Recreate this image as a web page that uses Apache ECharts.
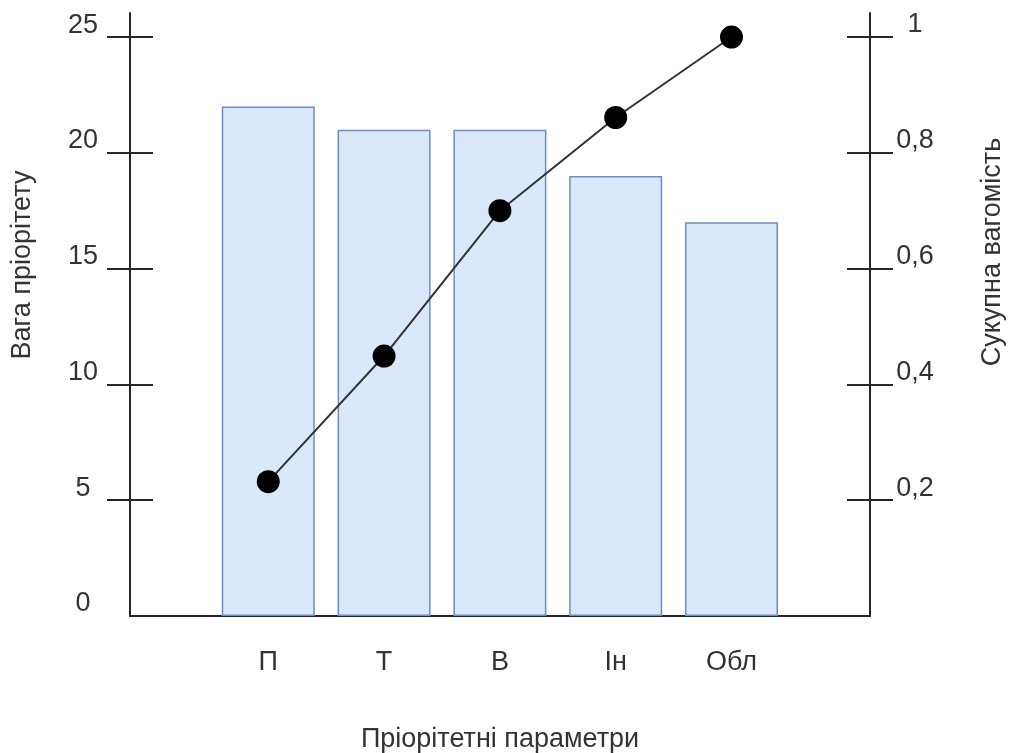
<!DOCTYPE html>
<html>
<head>
<meta charset="utf-8">
<script src="https://cdn.jsdelivr.net/npm/echarts@6/dist/echarts.min.js"></script>
<style>
html,body{margin:0;padding:0;background:#fff;}
#c{width:1013px;height:753px;}
</style>
</head>
<body>
<div id="c"></div>
<script>
var categories = ['П', 'Т', 'В', 'Ін', 'Обл'];
var weights = [22, 21, 21, 19, 17];
var cumulative = [0.232, 0.449, 0.700, 0.861, 1.0];
var leftLabels = [0, 5, 10, 15, 20, 25];
var leftTicks = [5, 10, 15, 20, 25];
var rightTicks = [0.2, 0.4, 0.6, 0.8, 1];
var xTitle = 'Пріорітетні параметри';
var leftTitle = 'Вага пріорітету';
var rightTitle = 'Сукупна вагомість';

var FONT = '"Liberation Sans", Arial, Helvetica, sans-serif';
var TXT = '#333';
var AX = '#262626';

var barData = weights.map(function (v, i) { return [i + 1, v]; });
var lineData = cumulative.map(function (v, i) { return [i + 1, v]; });
var catPos = categories.map(function (c, i) { return i + 1; });

function yAx(opts) {
  return Object.assign({
    type: 'value',
    offset: 0,
    splitLine: { show: false },
    axisLine: { show: true, onZero: false, lineStyle: { color: AX, width: 2 } }
  }, opts);
}

var chart = echarts.init(document.getElementById('c'), null, { renderer: 'canvas' });
chart.setOption({
  animation: false,
  backgroundColor: '#fff',
  textStyle: { fontFamily: FONT },
  grid: { left: 130, right: 143, top: 13, bottom: 137, containLabel: false, outerBoundsMode: 'none' },
  xAxis: {
    type: 'value',
    min: -0.194,
    max: 6.196,
    splitLine: { show: false },
    axisLine: { show: true, onZero: false, lineStyle: { color: AX, width: 2 } },
    axisTick: { show: false },
    axisLabel: {
      customValues: catPos,
      formatter: function (v) { return categories[Math.round(v) - 1] || ''; },
      color: TXT, fontSize: 27, fontFamily: FONT, margin: 33
    },
    name: xTitle,
    nameLocation: 'middle',
    nameGap: 110,
    nameTextStyle: { color: TXT, fontSize: 27, fontFamily: FONT }
  },
  yAxis: [
    yAx({
      position: 'left', min: 0, max: 26.04,
      axisTick: { show: true, inside: false, length: 23, customValues: leftTicks, lineStyle: { color: AX, width: 2 } },
      axisLabel: {
        customValues: leftLabels, color: TXT, fontSize: 27, fontFamily: FONT,
        margin: 47, align: 'center', verticalAlign: 'bottom', lineHeight: 24
      },
      name: leftTitle, nameLocation: 'middle', nameRotate: 90, nameGap: 94,
      nameTextStyle: { color: TXT, fontSize: 27, fontFamily: FONT, padding: [0, 0, 0, 99] }
    }),
    yAx({
      position: 'left', min: 0, max: 26.04,
      axisLine: { show: false, onZero: false },
      axisTick: { show: true, inside: true, length: 23, customValues: leftTicks, lineStyle: { color: AX, width: 2 } },
      axisLabel: { show: false }
    }),
    yAx({
      position: 'right', min: 0, max: 1.0415,
      axisTick: { show: true, inside: false, length: 23, customValues: rightTicks, lineStyle: { color: AX, width: 2 } },
      axisLabel: {
        customValues: rightTicks, color: TXT, fontSize: 27, fontFamily: FONT,
        margin: 45, align: 'center', verticalAlign: 'bottom', lineHeight: 24,
        formatter: function (v) { return String(+v.toFixed(2)).replace('.', ','); }
      },
      name: rightTitle, nameLocation: 'middle', nameRotate: 90, nameGap: 109,
      nameTextStyle: { color: TXT, fontSize: 27, fontFamily: FONT, padding: [0, 0, 0, 125] }
    }),
    yAx({
      position: 'right', min: 0, max: 1.0415,
      axisLine: { show: false, onZero: false },
      axisTick: { show: true, inside: true, length: 23, customValues: rightTicks, lineStyle: { color: AX, width: 2 } },
      axisLabel: { show: false }
    })
  ],
  series: [
    {
      type: 'bar',
      yAxisIndex: 0,
      data: barData,
      barWidth: 93,
      itemStyle: { color: '#dae8fc', borderColor: '#6c8ebf', borderWidth: 1.5 },
      z: 2
    },
    {
      type: 'line',
      yAxisIndex: 2,
      data: lineData,
      symbol: 'circle',
      symbolSize: 23,
      lineStyle: { color: '#333', width: 2 },
      itemStyle: { color: '#000', borderWidth: 0 },
      z: 3
    }
  ]
});
</script>
</body>
</html>
